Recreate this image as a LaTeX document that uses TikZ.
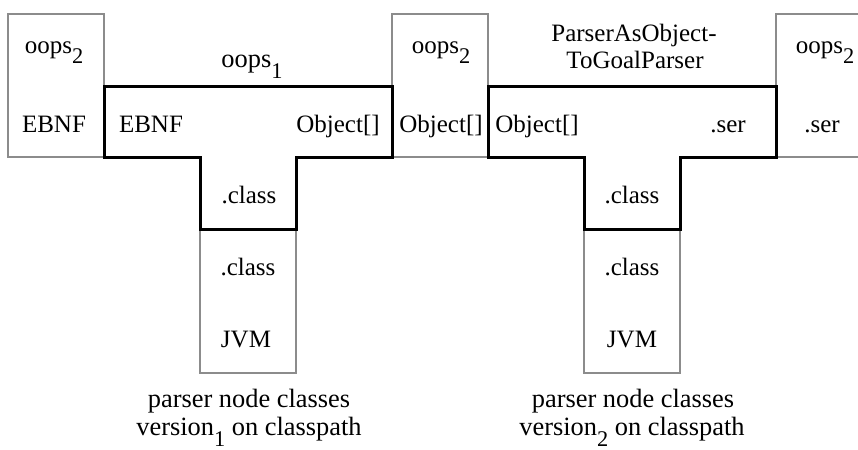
\documentclass[tikz,border=0pt]{standalone}
\usepackage{fontspec}
\setmainfont{Liberation Serif}
\definecolor{boxgray}{gray}{0.55}
% lowered, slightly smaller index digit
\newcommand\lowsub[1]{\raisebox{-0.42em}{\fontsize{11.2}{12}\selectfont #1}}
\begin{document}
\begin{tikzpicture}[x=0.5pt,y=-0.5pt,
  box/.style={draw=boxgray,line width=1.4pt},
  tee/.style={draw=black,line width=1.5pt,line join=miter},
  lbl/.style={anchor=base,inner sep=0pt,font=\fontsize{12.5}{14}\selectfont},
  captext/.style={lbl,font=\fontsize{13.2}{15}\selectfont}]
\useasboundingbox (0,0) rectangle (858,450);
\clip (0,0) rectangle (858,450);

% interpreter / language boxes (grey)
\draw[box] (8,14) rectangle (104,157);
\draw[box] (392,14) rectangle (488,157);
\draw[box] (776,14) rectangle (872,157);
\draw[box] (200,229) rectangle (296,373);
\draw[box] (584,229) rectangle (680,373);

% translator T-shapes (black)
\draw[tee] (104,86) -- (392,86) -- (392,157) -- (296,157) -- (296,229)
  -- (200,229) -- (200,157) -- (104,157) -- cycle;
\draw[tee] (488,86) -- (776,86) -- (776,157) -- (680,157) -- (680,229)
  -- (584,229) -- (584,157) -- (488,157) -- cycle;

% left program box
\node[lbl] (ltop) at (54,53) {oops\lowsub{2}};
\node[lbl] (lbot) at (54,132) {EBNF};

% first translator
\node[captext] (tonename) at (252,67) {oops\lowsub{1}};
\node[lbl] (tonein) at (151,132) {EBNF};
\node[lbl] (toneout) at (338,132) {Object[]};
\node[lbl] (toneimpl) at (249,203) {.class};
\node[lbl] (moneup) at (248,275) {.class};
\node[lbl] (monelow) at (246,347) {JVM};
\node[captext] (capaone) at (249,407) {parser node classes};
\node[captext] (capbone) at (249,435) {version\lowsub{1} on classpath};

% middle program box
\node[lbl] (mtop) at (441,53) {oops\lowsub{2}};
\node[lbl] (mbot) at (441,132) {Object[]};

% second translator
\node[lbl] (ttwonamea) at (634,41) {ParserAsObject-};
\node[lbl] (ttwonameb) at (635,68) {ToGoalParser};
\node[lbl] (ttwoin) at (537,132) {Object[]};
\node[lbl] (ttwoout) at (728,132) {.ser};
\node[lbl] (ttwoimpl) at (632,203) {.class};
\node[lbl] (mtwoup) at (632,275) {.class};
\node[lbl] (mtwolow) at (632,347) {JVM};
\node[captext] (capatwo) at (633,407) {parser node classes};
\node[captext] (capbtwo) at (632,435) {version\lowsub{2} on classpath};

% right program box
\node[lbl] (rtop) at (825,53) {oops\lowsub{2}};
\node[lbl] (rbot) at (822,132) {.ser};
\end{tikzpicture}
\end{document}
